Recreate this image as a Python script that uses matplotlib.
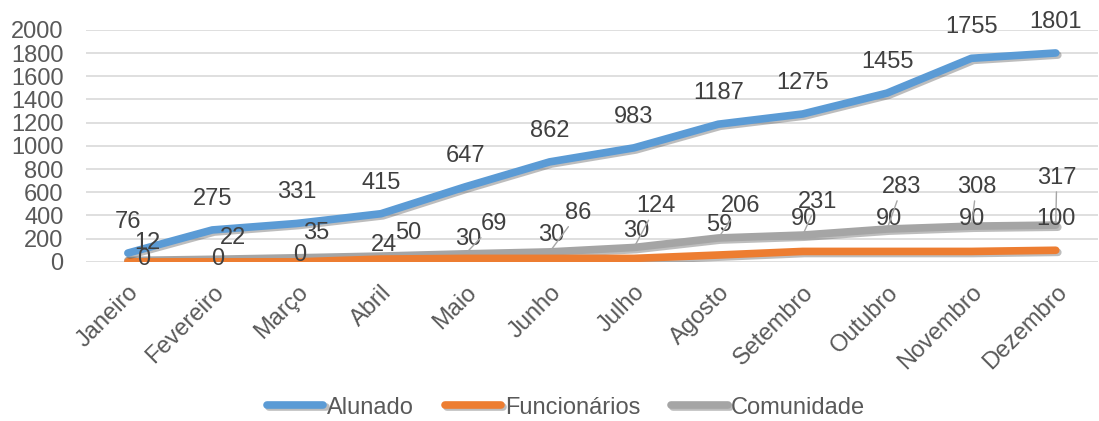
import matplotlib.pyplot as plt
import matplotlib.patheffects as pe

plt.rcParams['font.family'] = ['Liberation Sans', 'DejaVu Sans']

meses = ["Janeiro", "Fevereiro", "Março", "Abril", "Maio", "Junho", "Julho",
         "Agosto", "Setembro", "Outubro", "Novembro", "Dezembro"]
alunado = [76, 275, 331, 415, 647, 862, 983, 1187, 1275, 1455, 1755, 1801]
funcionarios = [0, 0, 0, 24, 30, 30, 30, 59, 90, 90, 90, 100]
comunidade = [12, 22, 35, 50, 69, 86, 124, 206, 231, 283, 308, 317]

# label offsets (pixels, x right / y up) as they were dragged in the original
off_func = [(16, 3), (5, 3), (3, 7), (3, 14), (3, 19), (2, 23), (2, 27),
            (1, 30), (1, 32), (2, 32), (1, 32), (0, 31)]
off_com = [(19, 17), (21, 21), (20, 25), (27, 23), (29, 30), (29, 39), (22, 41),
           (22, 32), (15, 33), (15, 42), (5, 39), (1, 47)]

azul = "#5B9BD5"
laranja = "#ED7D31"
cinza = "#A5A5A5"
txt = "#404040"
fs = 17

fig = plt.figure(figsize=(10.99, 4.21), dpi=100)
ax = fig.add_axes([0.078, 0.378, 0.921, 0.551])

x = list(range(len(meses)))
sombra = [pe.SimpleLineShadow(offset=(1.5, -1.5), alpha=0.35, shadow_color="#444444"), pe.Normal()]
ax.plot(x, comunidade, color=cinza, lw=5.5, solid_capstyle="round", label="Comunidade",
        path_effects=sombra, zorder=3)
ax.plot(x, funcionarios, color=laranja, lw=5.5, solid_capstyle="round", label="Funcionários",
        path_effects=sombra, zorder=4)
ax.plot(x, alunado, color=azul, lw=5.5, solid_capstyle="round", label="Alunado",
        path_effects=sombra, zorder=5)

px = 72 / 100
for i, v in enumerate(alunado):
    ax.annotate(str(v), (i, v), xytext=(0, 31 * px), textcoords="offset points",
                ha="center", va="center", fontsize=fs, color=txt)
for i, v in enumerate(funcionarios):
    dx, dy = off_func[i]
    ax.annotate(str(v), (i, v), xytext=(dx * px, dy * px), textcoords="offset points",
                ha="center", va="center", fontsize=fs, color=txt, zorder=6)
for i, v in enumerate(comunidade):
    dx, dy = off_com[i]
    seta = None
    if dy > 28:
        seta = dict(arrowstyle="-", color="#A6A6A6", lw=1, shrinkA=0, shrinkB=2)
    ax.annotate(str(v), (i, v), xytext=(dx * px, dy * px), textcoords="offset points",
                ha="center", va="center", fontsize=fs, color=txt, arrowprops=seta, zorder=6)

ax.set_xlim(-0.5, len(meses) - 0.5)
ax.set_ylim(0, 2000)
ax.set_yticks(range(0, 2001, 200))
ax.yaxis.grid(True, color="#D9D9D9", lw=1.2)
ax.set_axisbelow(True)
for s in ax.spines.values():
    s.set_visible(False)
ax.tick_params(axis="y", length=0, labelsize=fs, colors="#595959", pad=16)
ax.tick_params(axis="x", length=0, labelsize=fs, colors="#595959", pad=14)
ax.set_xticks(x)
ax.set_xticklabels(meses, rotation=45, ha="right", rotation_mode="anchor")

h, l = ax.get_legend_handles_labels()
ordem = [2, 1, 0]
fig.legend([h[k] for k in ordem], [l[k] for k in ordem], loc="center",
           bbox_to_anchor=(0.515, 0.032), ncol=3, frameon=False, fontsize=fs,
           handlelength=2.4, handletextpad=0.15, columnspacing=1.3, labelcolor="#595959",
           borderpad=0.1)

fig.savefig("out.png", dpi=100)
